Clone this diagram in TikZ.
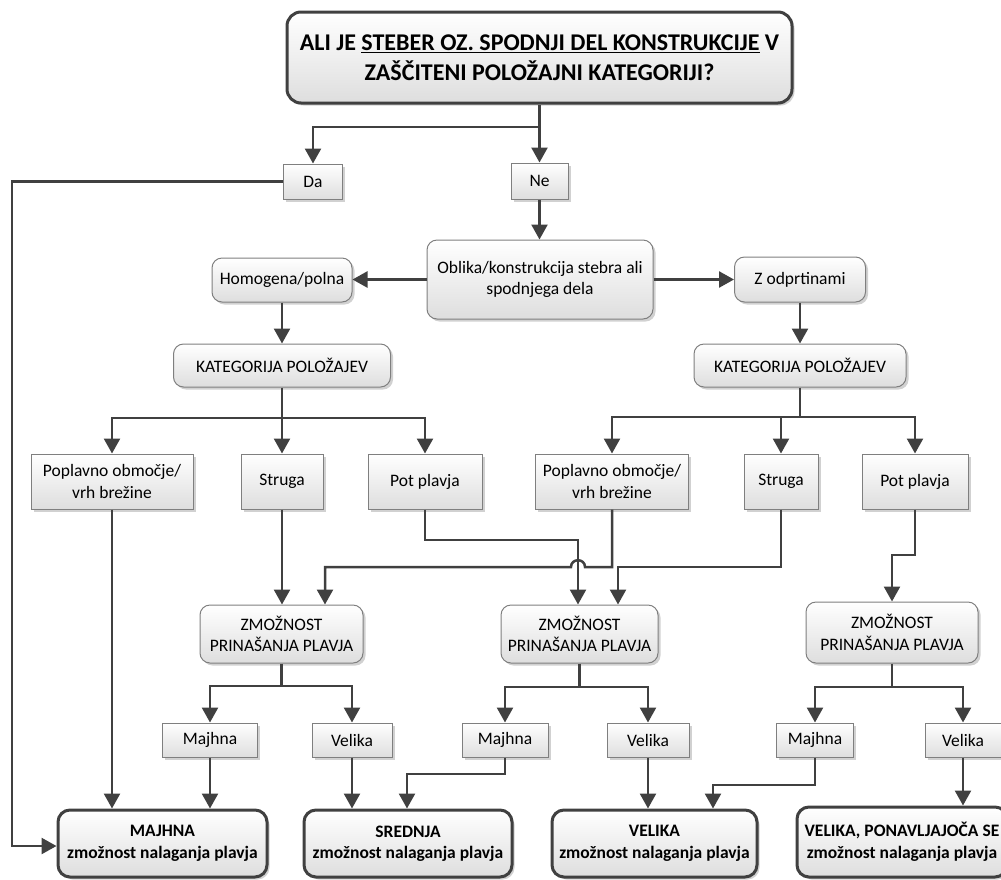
\documentclass[tikz,border=0pt]{standalone}
\usepackage{fontspec}
\setmainfont{Carlito}
\usetikzlibrary{arrows.meta,shadows}
\definecolor{ink}{HTML}{404040}
\definecolor{rim}{HTML}{7F7F7F}
\begin{document}
\begin{tikzpicture}[x=1pt,y=-1pt,
  dims/.style n args={2}{minimum width=#1pt, minimum height=#2pt},
  base/.style={draw=rim, line width=1pt, top color=white, bottom color=black!13,
    align=center, inner sep=0pt, font=\fontsize{17.5}{21.5}\selectfont,
    drop shadow={shadow xshift=2.5pt, shadow yshift=-2.5pt, fill=black, opacity=0.18}},
  sq/.style={base},
  rnd/.style={base, rounded corners=10pt},
  res/.style={base, draw=ink, line width=3pt, rounded corners=12pt,
    font=\bfseries\fontsize{17.5}{21.5}\selectfont},
  link/.style={draw=ink, line width=2.5pt},
  arr/.style={link, -{Triangle[width=16pt,length=15pt]}}
]
\useasboundingbox (0,0) rectangle (1001,879);

% question at the top
\node[res, dims={505}{91}, rounded corners=14pt, font=\bfseries\fontsize{24}{30}\selectfont]
  (title) at (539.5,57.5)
  {ALI JE \underline{STEBER OZ. SPODNJI DEL KONSTRUKCIJE} V\\ZAŠČITENI POLOŽAJNI KATEGORIJI?};

% yes / no
\node[sq, dims={59}{35}] (da) at (313,181.5) {Da};
\node[sq, dims={57}{36}] (ne) at (539.5,181) {Ne};

% shape of the pier
\node[rnd, dims={226}{79}] (oblika) at (540,279.5) {Oblika/konstrukcija stebra ali\\spodnjega dela};
\node[rnd, dims={140}{44}] (homo) at (282,280) {Homogena/polna};
\node[rnd, dims={131}{45}] (zodp) at (800,279.5) {Z odprtinami};

% position categories
\node[rnd, dims={217}{43}] (katL) at (282,365.5) {KATEGORIJA POLOŽAJEV};
\node[rnd, dims={212}{43}] (katR) at (800,365.5) {KATEGORIJA POLOŽAJEV};

\node[sq, dims={162}{55}] (popL) at (112,481.5) {Poplavno območje/\\vrh brežine};
\node[sq, dims={82}{55}]  (strL) at (282,481.5) {Struga};
\node[sq, dims={114}{55}] (potL) at (425,481.5) {Pot plavja};
\node[sq, dims={153}{55}] (popM) at (612,481.5) {Poplavno območje/\\vrh brežine};
\node[sq, dims={74}{55}]  (strR) at (781,481.5) {Struga};
\node[sq, dims={106}{55}] (potR) at (915,481.5) {Pot plavja};

% debris supply
\node[rnd, dims={163}{58}] (zmL) at (281.5,634) {ZMOŽNOST\\PRINAŠANJA PLAVJA};
\node[rnd, dims={157}{58}] (zmM) at (579.5,634) {ZMOŽNOST\\PRINAŠANJA PLAVJA};
\node[rnd, dims={172}{61}] (zmR) at (892,632.5) {ZMOŽNOST\\PRINAŠANJA PLAVJA};

\node[sq, dims={95}{34}] (majL) at (210,740) {Majhna};
\node[sq, dims={80}{34}] (velL) at (352,740) {Velika};
\node[sq, dims={86}{34}] (majM) at (505,740) {Majhna};
\node[sq, dims={82}{34}] (velM) at (648,740) {Velika};
\node[sq, dims={77}{34}] (majR) at (815,740) {Majhna};
\node[sq, dims={76}{34}] (velR) at (963,740) {Velika};

% resulting accumulation potential
\node[res, dims={209}{67}] (resL) at (162.5,843.5) {MAJHNA\\zmožnost nalaganja plavja};
\node[res, dims={208}{67}] (resS) at (408,843.5) {SREDNJA\\zmožnost nalaganja plavja};
\node[res, dims={205}{67}] (resV) at (654.5,843.5) {VELIKA\\zmožnost nalaganja plavja};
\node[res, dims={210}{70}] (resR) at (902,842) {VELIKA, PONAVLJAJOČA SE\\zmožnost nalaganja plavja};

% connectors
\coordinate (j0) at (539.5,127);
\draw[link] (title.south) -- (j0);
\draw[arr] (j0) -| (da.north);
\draw[arr] (j0) -- (ne.north);

\coordinate (dturn) at (12,846);
\draw[arr] (da.west) -| (dturn) -- (dturn -| resL.west);

\draw[arr] (ne.south) -- (ne.south |- oblika.north);
\draw[arr] (oblika.west) -- (oblika.west -| homo.east);
\draw[arr] (oblika.east) -- (oblika.east -| zodp.west);
\draw[arr] (homo.south) -- (homo.south |- katL.north);
\draw[arr] (zodp.south) -- (zodp.south |- katR.north);

\coordinate (jL) at (282,418);
\draw[link] (katL.south) -- (jL);
\draw[arr] (jL) -| (popL.north);
\draw[arr] (jL) -- (strL.north);
\draw[arr] (jL) -| (potL.north);

\coordinate (jR) at (800,417);
\draw[link] (katR.south) -- (jR);
\draw[arr] (jR) -| (popM.north);
\draw[arr] (jR) -| (strR.north);
\draw[arr] (jR) -| (potR.north);

\draw[arr] (popL.south) -- (popL.south |- resL.north);
\draw[arr] (strL.south) -- (strL.south |- zmL.north);

\coordinate (pa) at (578,540);
\draw[arr] (potL.south) |- (pa) -- (pa |- zmM.north);

\coordinate (pb) at (612,567);
\coordinate (hopR) at (585,567);
\coordinate (hopL) at (571,567);
\coordinate (pc) at (325,567);
\draw[arr] (popM.south) -- (pb) -- (hopR) .. controls +(0,-9) and +(0,-9) .. (hopL) -- (pc) -- (pc |- zmL.north);

\coordinate (pd) at (618,567);
\draw[arr] (strR.south) |- (pd) -- (pd |- zmM.north);

\coordinate (pe) at (892,555);
\draw[arr] (potR.south) |- (pe) -- (pe |- zmR.north);

\coordinate (kL) at (281.5,686);
\draw[link] (zmL.south) -- (kL);
\draw[arr] (kL) -| (majL.north);
\draw[arr] (kL) -| (velL.north);

\coordinate (kM) at (579.5,687);
\draw[link] (zmM.south) -- (kM);
\draw[arr] (kM) -| (majM.north);
\draw[arr] (kM) -| (velM.north);

\coordinate (kR) at (892,687);
\draw[link] (zmR.south) -- (kR);
\draw[arr] (kR) -| (majR.north);
\draw[arr] (kR) -| (velR.north);

\draw[arr] (majL.south) -- (majL.south |- resL.north);
\draw[arr] (velL.south) -- (velL.south |- resS.north);
\coordinate (pf) at (407,774);
\draw[arr] (majM.south) |- (pf) -- (pf |- resS.north);
\draw[arr] (velM.south) -- (velM.south |- resV.north);
\coordinate (pg) at (713,785);
\draw[arr] (majR.south) |- (pg) -- (pg |- resV.north);
\draw[arr] (velR.south) -- (velR.south |- resR.north);
\end{tikzpicture}
\end{document}
